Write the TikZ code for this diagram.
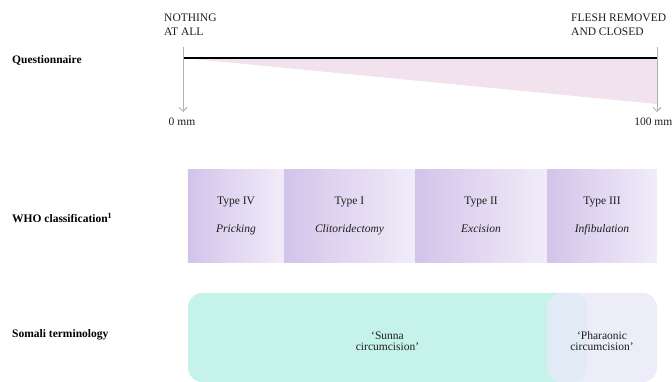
\documentclass[tikz,border=0pt]{standalone}
\usepackage{fontspec}
\setmainfont{Liberation Serif}
\usetikzlibrary{arrows.meta}
\definecolor{pinkfill}{RGB}{242,226,238}
\definecolor{arrowgray}{RGB}{178,178,178}
\definecolor{purpdark}{RGB}{210,196,234}
\definecolor{purplight}{RGB}{241,236,249}
\definecolor{mint}{RGB}{198,243,233}
\definecolor{lav}{RGB}{232,232,248}
\definecolor{txt}{RGB}{30,30,30}
\tikzset{
  lbl/.style={inner sep=0pt, text=txt},
  rowlbl/.style={inner sep=0pt, anchor=west, font=\fontsize{11.5}{13.5}\selectfont\bfseries},
  scalearrow/.style={draw=arrowgray, line width=0.9pt, -{Straight Barb[length=4pt,width=8pt]}},
  whobox/.style={rectangle, inner sep=0pt, minimum height=92pt, left color=purpdark, right color=purplight, align=center, text=txt},
  sombox/.style={rectangle, rounded corners=15pt, inner sep=0pt, minimum height=89.5pt, align=center, text=txt}
}
\begin{document}
\begin{tikzpicture}[x=1pt,y=-1pt, font=\fontsize{11.5}{14}\selectfont]
\useasboundingbox (0,0) rectangle (672,382);
% questionnaire row
\coordinate (q0) at (183,58);
\coordinate (q1) at (657,58);
\coordinate (q2) at (657,104);
\fill[pinkfill] (q0) -- (q1) -- (q2) -- cycle;
\draw[line width=1.6pt] (q0) -- (q1);
\coordinate (a0top) at (183,47);
\coordinate (a0bot) at (183,112);
\coordinate (a1top) at (657,47);
\coordinate (a1bot) at (657,112);
\draw[scalearrow] (a0top) -- (a0bot);
\draw[scalearrow] (a1top) -- (a1bot);
\node[lbl, anchor=north west, align=left] (nothing) at (164,13.5) {NOTHING\\AT ALL};
\node[lbl, anchor=north west, align=left] (flesh) at (571,13.5) {FLESH REMOVED\\AND CLOSED};
\node[lbl] (zero) at (182,122) {0 mm};
\node[lbl, anchor=east] (hundred) at (672.5,122) {100 mm};
\node[rowlbl] (quest) at (12,60) {Questionnaire};
% WHO row
\node[rowlbl] (who) at (12,218) {WHO classification\textsuperscript{1}};
\node[whobox, minimum width=96.5pt] (t4) at (236,216) {Type IV\strut\\[14pt]\textit{Pricking}\strut};
\node[whobox, minimum width=131pt] (t1) at (349.5,216) {Type I\strut\\[14pt]\textit{Clitoridectomy}\strut};
\node[whobox, minimum width=132pt] (t2) at (481,216) {Type II\strut\\[14pt]\textit{Excision}\strut};
\node[whobox, minimum width=110pt] (t3) at (602,216) {Type III\strut\\[14pt]\textit{Infibulation}\strut};
% Somali row
\node[rowlbl] (somali) at (12,335) {Somali terminology};
\node[sombox, fill=mint, minimum width=399pt, font=\fontsize{11.5}{13}\selectfont] (sunna) at (387.5,337.5) {\raisebox{-12.5pt}[0pt][0pt]{\shortstack{‘Sunna\\circumcision’}}};
\node[sombox, fill=lav, fill opacity=0.8, text opacity=1, minimum width=110pt, font=\fontsize{11.5}{13}\selectfont] (pharaonic) at (602,337.5) {\raisebox{-12.5pt}[0pt][0pt]{\shortstack{‘Pharaonic\\circumcision’}}};
\end{tikzpicture}
\end{document}
